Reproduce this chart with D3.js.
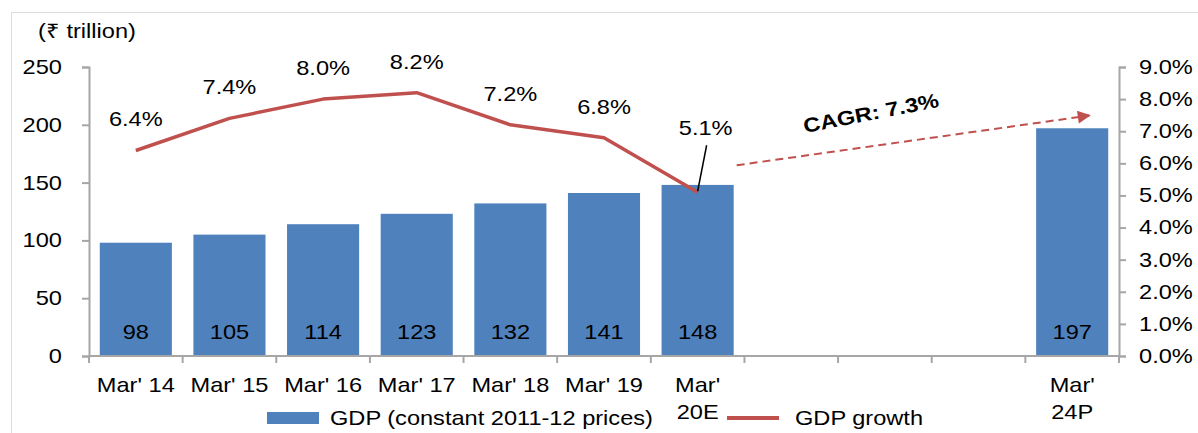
<!DOCTYPE html>
<html>
<head>
<meta charset="utf-8">
<script src="https://cdnjs.cloudflare.com/ajax/libs/d3/7.8.5/d3.min.js"></script>
<style>
    body { margin: 0; background: #fff; }
    svg { font-family: "Liberation Sans", Arial, sans-serif; font-size: 20px; fill: #000; }
    .axis path, .axis line { stroke: #a6a6a6; stroke-width: 2; }
    .axis text { font-size: 20px; fill: #000; }
</style>
</head>
<body>
<script>

// categories (unique keys) and their printed labels
const periods = ["FY14", "FY15", "FY16", "FY17", "FY18", "FY19", "FY20E", "gap1", "gap2", "gap3", "FY24P"];
const periodLabels = [["Mar' 14"], ["Mar' 15"], ["Mar' 16"], ["Mar' 17"], ["Mar' 18"], ["Mar' 19"],
    ["Mar'", "20E"], [], [], [], ["Mar'", "24P"]];

// GDP at constant 2011-12 prices (₹ trillion)
const gdp = [98, 105, 114, 123, 132, 141, 148, null, null, null, 197];

// GDP growth (%)
const growthPeriods = ["FY14", "FY15", "FY16", "FY17", "FY18", "FY19", "FY20E"];
const growth = [6.4, 7.4, 8.0, 8.2, 7.2, 6.8, 5.1];

const cagr = 7.3;
const leftTicks = [0, 50, 100, 150, 200, 250];
const rightTicks = [0, 1, 2, 3, 4, 5, 6, 7, 8, 9];

// the picture is horizontally stretched, so text is too
const SX = 1.18;
const BLUE = "#4f81bd", RED = "#c0504d";

const W = 1198, H = 433;
const plot = {left: 89, right: 1119, top: 67, bottom: 356};

const svg = d3.select("body").append("svg")
    .attr("width", W).attr("height", H);

// outer frame
svg.append("rect")
    .attr("x", 11.5).attr("y", 12.5)
    .attr("width", W + 20).attr("height", H + 20)
    .attr("fill", "none").attr("stroke", "#dcdcdc");

const x = d3.scaleBand().domain(periods)
    .range([plot.left, plot.right])
    .paddingInner(0.23).paddingOuter(0.115);
const yL = d3.scaleLinear().domain([0, 250]).range([plot.bottom, plot.top]);
const yR = d3.scaleLinear().domain([0, 9]).range([plot.bottom, plot.top]);

function label(parent, px, py, txt, anchor = "middle") {
    return parent.append("text")
        .attr("transform", `translate(${px},${py}) scale(${SX},1)`)
        .attr("text-anchor", anchor)
        .text(txt);
}

// bars
const barData = periods.map((p, i) => ({p, v: gdp[i]})).filter(d => d.v !== null);
svg.append("g").selectAll("rect")
    .data(barData).enter().append("rect")
    .attr("x", d => x(d.p))
    .attr("y", d => yL(d.v))
    .attr("width", x.bandwidth())
    .attr("height", d => yL(0) - yL(d.v))
    .attr("fill", BLUE);

// bar value labels
const barLabels = svg.append("g");
barData.forEach(d => label(barLabels, x(d.p) + x.bandwidth() / 2, plot.bottom - 17, d.v));

// left axis
const axL = svg.append("g").attr("class", "axis")
    .attr("transform", `translate(${plot.left},0)`)
    .call(d3.axisLeft(yL).tickValues(leftTicks).tickSize(7).tickSizeOuter(7).tickPadding(16));
axL.selectAll(".tick text").attr("transform", `scale(${SX},1)`);

// right axis
const axR = svg.append("g").attr("class", "axis")
    .attr("transform", `translate(${plot.right},0)`)
    .call(d3.axisRight(yR).tickValues(rightTicks).tickSize(7).tickSizeOuter(7).tickPadding(10)
        .tickFormat(d => d3.format(".1f")(d) + "%"));
axR.selectAll(".tick text").attr("transform", `scale(${SX},1)`);

// bottom axis: line + ticks at category boundaries
const axB = svg.append("g").attr("class", "axis");
axB.append("line")
    .attr("x1", plot.left).attr("x2", plot.right)
    .attr("y1", plot.bottom).attr("y2", plot.bottom);
axB.selectAll(".btick")
    .data(d3.range(periods.length + 1)).enter().append("line")
    .attr("x1", i => plot.left + i * x.step())
    .attr("x2", i => plot.left + i * x.step())
    .attr("y1", plot.bottom).attr("y2", plot.bottom + 7);

const xLabels = svg.append("g");
periods.forEach((p, i) => {
    periodLabels[i].forEach((line, j) => {
        label(xLabels, x(p) + x.bandwidth() / 2, 392 + j * 27, line);
    });
});

// y unit title
label(svg, 38, 38, "(₹ trillion)", "start");

// growth line
const gData = growthPeriods.map((p, i) => ({p, v: growth[i]}));
const cx = d => x(d.p) + x.bandwidth() / 2;
svg.append("path")
    .datum(gData)
    .attr("fill", "none")
    .attr("stroke", RED)
    .attr("stroke-width", 3.5)
    .attr("stroke-linejoin", "round")
    .attr("d", d3.line().x(cx).y(d => yR(d.v)));

// growth labels
const gLabels = svg.append("g");
gData.forEach((d, i) => {
    const txt = d3.format(".1f")(d.v) + "%";
    if (i === gData.length - 1) {
        // last one is lifted with a leader line
        label(gLabels, cx(d) + 8, yR(d.v) - 57, txt);
        gLabels.append("line")
            .attr("x1", cx(d) + 9).attr("y1", yR(d.v) - 47)
            .attr("x2", cx(d)).attr("y2", yR(d.v) - 1)
            .attr("stroke", "#000").attr("stroke-width", 1.5);
    } else {
        label(gLabels, cx(d), yR(d.v) - 24, txt);
    }
});

// CAGR arrow
const defs = svg.append("defs");
defs.append("marker")
    .attr("id", "arrow")
    .attr("viewBox", "0 0 10 10")
    .attr("refX", 9).attr("refY", 5)
    .attr("markerUnits", "userSpaceOnUse")
    .attr("markerWidth", 15).attr("markerHeight", 13)
    .attr("orient", "auto")
    .append("path")
    .attr("d", "M0,0 L10,5 L0,10 Z")
    .attr("fill", RED);

const x0 = x("FY20E") + x.bandwidth() + 3, y0 = yL(165);
const x1 = x("FY24P") + x.bandwidth() * 0.74, y1 = yL(208);
svg.append("line")
    .attr("x1", x0).attr("y1", y0)
    .attr("x2", x1).attr("y2", y1)
    .attr("stroke", RED).attr("stroke-width", 2)
    .attr("stroke-dasharray", "8,5")
    .attr("marker-end", "url(#arrow)");

svg.append("text")
    .attr("transform", `translate(871,113) rotate(-11) scale(${SX},1)`)
    .attr("text-anchor", "middle")
    .attr("dy", "0.35em")
    .attr("font-weight", "bold")
    .text("CAGR: " + cagr.toFixed(1) + "%");

// legend
const legend = svg.append("g");
legend.append("rect")
    .attr("x", 267).attr("y", 412).attr("width", 52).attr("height", 12)
    .attr("fill", BLUE);
label(legend, 330, 425, "GDP (constant 2011-12 prices)", "start");
legend.append("line")
    .attr("x1", 727).attr("x2", 779).attr("y1", 418).attr("y2", 418)
    .attr("stroke", RED).attr("stroke-width", 4);
label(legend, 795, 425, "GDP growth", "start");

</script>
</body>
</html>
